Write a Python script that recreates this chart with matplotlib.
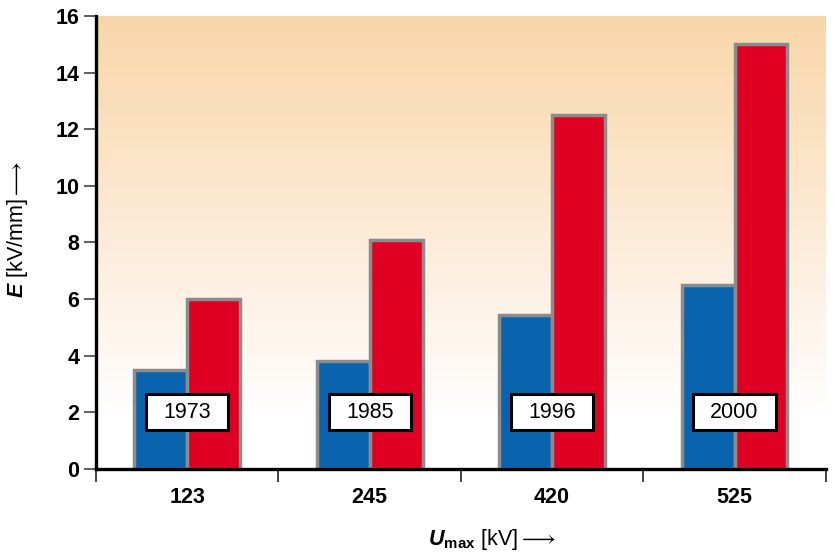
"""
Field strength E vs. maximum voltage U_max, grouped bars with year boxes.
"""

import numpy as np
import matplotlib
matplotlib.use("Agg")
import matplotlib.pyplot as plt
from matplotlib.colors import LinearSegmentedColormap
from matplotlib.patches import Rectangle

# ---------------------------------------------------------------------------
# Data
# ---------------------------------------------------------------------------
voltages = ["123", "245", "420", "525"]
years = ["1973", "1985", "1996", "2000"]
e_blue = [3.5, 3.8, 5.45, 6.5]
e_red = [6.0, 8.1, 12.5, 15.0]
year_label_y = 2.0

BLUE = "#0A64AD"
RED = "#E00023"
EDGE = "#8C8C8C"

plt.rcParams["font.family"] = ["Liberation Sans", "DejaVu Sans"]
plt.rcParams["mathtext.fontset"] = "custom"
plt.rcParams["mathtext.rm"] = "Liberation Sans"
plt.rcParams["mathtext.bf"] = "Liberation Sans:bold"
plt.rcParams["mathtext.bfit"] = "Liberation Sans:italic:bold"
plt.rcParams["mathtext.it"] = "Liberation Sans:italic"

fig = plt.figure(figsize=(8.34, 5.53), dpi=100)
ax = fig.add_axes([0.1151, 0.152, 0.875, 0.819])

n = len(voltages)
ax.set_xlim(0, n)
ax.set_ylim(0, 16)

# background gradient (orange at top fading to white)
grad = np.linspace(1, 0, 256).reshape(-1, 1)
cmap = LinearSegmentedColormap.from_list(
    "bg", [(0.0, "#FFFFFF"), (0.12, "#FFFFFF"), (0.35, "#FEF3E8"), (1.0, "#F9D6A9")]
)
ax.imshow(grad, extent=[0, n, 0, 16], aspect="auto", cmap=cmap,
          vmin=0, vmax=1, zorder=0)

centers = np.arange(n) + 0.5
width = 0.29
ax.bar(centers - width / 2, e_blue, width, color=BLUE, edgecolor=EDGE,
       linewidth=2.5, zorder=2)
ax.bar(centers + width / 2, e_red, width, color=RED, edgecolor=EDGE,
       linewidth=2.5, zorder=2)

# year boxes
box_w, box_h = 0.45, 1.27
for c, yr in zip(centers, years):
    ax.add_patch(Rectangle((c - box_w / 2, year_label_y - box_h / 2), box_w, box_h,
                           facecolor="white", edgecolor="black", linewidth=2.2,
                           zorder=4))
    ax.text(c, year_label_y, yr, ha="center", va="center", fontsize=15.5,
            zorder=5)

# axes styling
for s in ["top", "right"]:
    ax.spines[s].set_visible(False)
ax.spines["left"].set_linewidth(2.4)
ax.spines["bottom"].set_linewidth(2.4)
ax.spines["left"].set_zorder(6)
ax.spines["bottom"].set_zorder(6)

ax.set_yticks(np.arange(0, 17, 2))
ax.tick_params(axis="y", length=9, width=1.2, color="#444444", labelsize=15.5,
               pad=3)
for lbl in ax.get_yticklabels():
    lbl.set_fontweight("bold")

ax.set_xticks(np.arange(0, n + 1))
ax.set_xticklabels([])
ax.tick_params(axis="x", which="major", length=9, width=1.2, color="#222222")
ax.set_xticks(centers, minor=True)
ax.set_xticklabels(voltages, minor=True, fontsize=15.5, fontweight="bold")
ax.tick_params(axis="x", which="minor", length=0, pad=13)

ax.set_ylabel(r"$\mathbfit{E}$ [kV/mm]$\longrightarrow$", fontsize=15.5)
ax.yaxis.set_label_coords(-0.09, 0.53)
ax.set_xlabel(r"$\mathbfit{U}_{\mathbf{max}}$ [kV]$\longrightarrow$",
              fontsize=15.5)
ax.xaxis.set_label_coords(0.542, -0.128)

fig.savefig("out.png", dpi=100)
